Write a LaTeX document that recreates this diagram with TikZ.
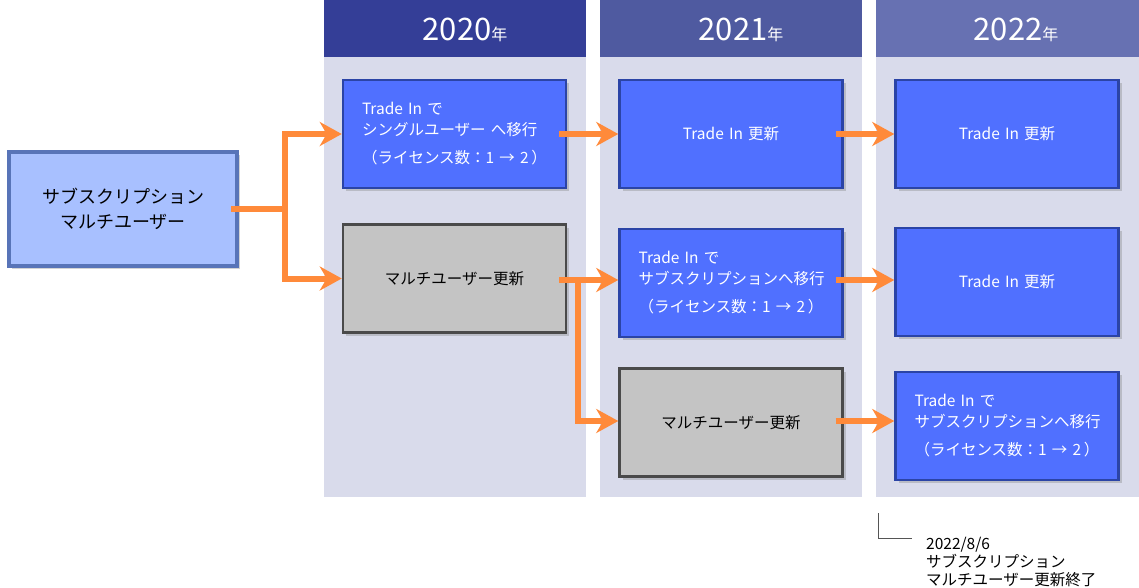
\documentclass[tikz,border=0pt]{standalone}
\usepackage{fontspec}
\setmainfont{Noto Sans CJK JP}
\usetikzlibrary{arrows.meta,shadows}
\definecolor{hdrA}{HTML}{343E97}
\definecolor{hdrB}{HTML}{4F5AA0}
\definecolor{hdrC}{HTML}{6771B2}
\definecolor{colbg}{HTML}{D9DBEB}
\definecolor{bluefill}{HTML}{5070FF}
\definecolor{blueedge}{HTML}{2B44A6}
\definecolor{grayfill}{HTML}{C4C4C4}
\definecolor{grayedge}{HTML}{4A4A4A}
\definecolor{srcfill}{HTML}{A8C0FF}
\definecolor{srcedge}{HTML}{5874B8}
\definecolor{arr}{HTML}{FF8A3A}
\definecolor{notegray}{HTML}{555555}
\tikzset{
  shad/.style={drop shadow={opacity=0.35,shadow xshift=3pt,shadow yshift=-3pt}},
  bluebox/.style={shad,draw=blueedge,line width=2.5pt,fill=bluefill,text=white,
    minimum width=223pt,minimum height=108pt,inner xsep=19pt,inner ysep=0pt,
    text width=185pt,font=\fontsize{15.5}{21}\selectfont},
  graybox/.style={shad,draw=grayedge,line width=2.5pt,fill=grayfill,text=black,
    minimum width=223pt,minimum height=108pt,align=center,font=\fontsize{15.5}{21}\selectfont},
  srcbox/.style={shad,draw=srcedge,line width=4.5pt,fill=srcfill,text=black,
    minimum width=228pt,minimum height=114pt,align=center,font=\fontsize{18}{25}\selectfont},
  hdr/.style={text=white,font=\fontsize{31}{31}\selectfont},
  arrline/.style={draw=arr,line width=6pt},
  arrow/.style={arrline,-{Stealth[length=22pt,width=24pt,inset=7pt]}},
  note/.style={text=black,align=left,inner sep=0pt,font=\fontsize{15.5}{18}\selectfont},
}
\newcommand{\nen}{{\fontsize{16}{16}\selectfont 年}}
\newcommand{\lic}{（ライセンス数：1 → 2\,）}
\begin{document}
\begin{tikzpicture}[x=1pt,y=-1pt]
\useasboundingbox (0,0) rectangle (1139,587);
% columns
\fill[colbg] (324,57) rectangle (586,497);
\fill[colbg] (600,57) rectangle (862,497);
\fill[colbg] (876,57) rectangle (1139,497);
\fill[hdrA] (324,0) rectangle (586,57);
\fill[hdrB] (600,0) rectangle (862,57);
\fill[hdrC] (876,0) rectangle (1139,57);
\node[hdr] (h1) at (465,30) {2020\nen};
\node[hdr] (h2) at (741,30) {2021\nen};
\node[hdr] (h3) at (1016,30) {2022\nen};
% boxes
\node[srcbox] (src) at (123,209) {サブスクリプション\\マルチユーザー};
\node[bluebox,align=left] (a1) at (454.5,134) {Trade In で\\シングルユーザー へ移行\\[7pt]\lic};
\node[graybox] (a2) at (454.5,278.5) {マルチユーザー更新};
\node[bluebox,align=center] (b1) at (731,134) {Trade In 更新};
\node[bluebox,align=left] (b2) at (731,283) {Trade In で\\サブスクリプションへ移行\\[7pt]\lic};
\node[graybox] (b3) at (731,422.5) {マルチユーザー更新};
\node[bluebox,align=center] (c1) at (1007,134) {Trade In 更新};
\node[bluebox,align=center] (c2) at (1007,282) {Trade In 更新};
\node[bluebox,align=left] (c3) at (1007,426) {Trade In で\\サブスクリプションへ移行\\[7pt]\lic};
% connectors
\coordinate (j1) at (285,209);
\draw[arrline] ([xshift=-8pt]src.east) -- (j1);
\draw[arrow] (j1) |- (a1.west);
\draw[arrow] (j1) |- (a2.west);
\draw[arrow] ([xshift=-8pt]a1.east) -- (b1.west);
\coordinate (j2) at (578,280);
\draw[arrow] ([xshift=-8pt]a2.east |- j2) -- (b2.west |- j2);
\draw[arrow] (j2) |- (b3.west |- 0,421);
\draw[arrow] ([xshift=-8pt]b1.east) -- (c1.west);
\draw[arrow] ([xshift=-8pt]b2.east |- 0,280) -- (c2.west |- 0,280);
\draw[arrow] ([xshift=-8pt]b3.east |- 0,421) -- (c3.west |- 0,421);
% note
\coordinate (n0) at (878,513);
\coordinate (n1) at (912,538);
\draw[notegray,line width=1pt] (n0) |- (n1);
\node[note,anchor=north west] (note) at (926,537) {2022/8/6\\サブスクリプション\\マルチユーザー更新終了};
\end{tikzpicture}
\end{document}
